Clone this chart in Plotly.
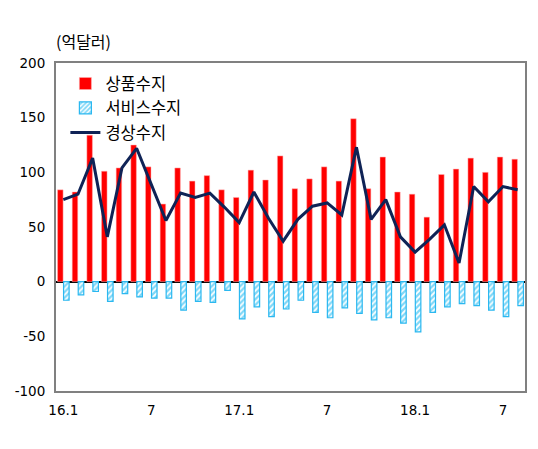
import plotly.graph_objects as go

months = [f"{y}.{m}" for y in (16, 17, 18) for m in range(1, 13)][:32]
goods = [84, 82, 134, 101, 104, 125, 105, 71, 104, 92, 97, 84,
         77, 102, 93, 115, 85, 94, 105, 92, 149, 85, 114, 82,
         80, 59, 98, 103, 113, 100, 114, 112]
services = [-17, -12, -9, -18, -11, -14, -15, -15, -26, -18, -19, -8,
            -34, -23, -32, -25, -17, -28, -33, -24, -29, -35, -33, -38,
            -46, -28, -23, -20, -22, -26, -32, -22]
current = [75, 80, 113, 41, 104, 122, 89, 56, 81, 77, 81, 68,
           54, 82, 58, 37, 57, 69, 72, 61, 123, 57, 75, 41,
           27, 39, 52, 17, 87, 73, 87, 84]
tick_vals = ["16.1", "16.7", "17.1", "17.7", "18.1", "18.7"]
tick_text = ["16.1", "7", "17.1", "7", "18.1", "7"]
y_ticks = [200, 150, 100, 50, 0, -50, -100]
y_text = ["200", "150", "100", "50", "0", "-50", "-100"]

FONT = "DejaVu Sans, Noto Sans CJK KR, sans-serif"
KFONT = "Noto Sans CJK KR, sans-serif"

fig = go.Figure()
fig.add_trace(go.Bar(
    x=months, y=goods, name="상품수지",
    marker=dict(color="#ff0000", line=dict(color="#ffb0b0", width=0.5)),
))
fig.add_trace(go.Bar(
    x=months, y=services, name="서비스수지",
    marker=dict(color="#ffffff", line=dict(color="#2bb8f0", width=1.2),
                pattern=dict(shape="/", fgcolor="#00b0f0", bgcolor="#ffffff",
                             size=4, solidity=0.55)),
))
fig.add_trace(go.Scatter(
    x=months, y=current, name="경상수지", mode="lines",
    line=dict(color="#0f2356", width=3),
))

fig.update_layout(
    width=530, height=441,
    margin=dict(l=48, r=13, t=55, b=58, autoexpand=False),
    paper_bgcolor="white", plot_bgcolor="white",
    barmode="group", bargap=0.18, bargroupgap=0.08,
    font=dict(family=FONT, size=14, color="black"),
    showlegend=True,
    legend=dict(x=0.02, y=0.99, xanchor="left", yanchor="top",
                bgcolor="rgba(0,0,0,0)", itemwidth=30,
                font=dict(family=KFONT, size=16.5, color="black"),
                tracegroupgap=0, traceorder="normal"),
    annotations=[dict(text="(억달러)", x=-0.005, y=1.025, xref="paper", yref="paper",
                      xanchor="left", yanchor="bottom", showarrow=False,
                      font=dict(family=KFONT, size=16, color="black"))],
)
fig.update_xaxes(
    type="category", categoryorder="array", categoryarray=months,
    tickmode="array", tickvals=tick_vals, ticktext=tick_text,
    showline=True, linecolor="#808080", linewidth=2, mirror=True,
    showgrid=False, ticks="", ticklabelstandoff=6, automargin=False,
    tickfont=dict(family=FONT, size=13.5),
)
fig.update_yaxes(
    range=[-100, 200], tickmode="array", tickvals=y_ticks, ticktext=y_text,
    showline=True, linecolor="#808080", linewidth=2, mirror=True,
    showgrid=False, zeroline=True, zerolinecolor="black", zerolinewidth=1.5,
    ticks="", automargin=False, ticklabelstandoff=6,
    tickfont=dict(family=FONT, size=13.5),
)

fig.write_html("out.html")
